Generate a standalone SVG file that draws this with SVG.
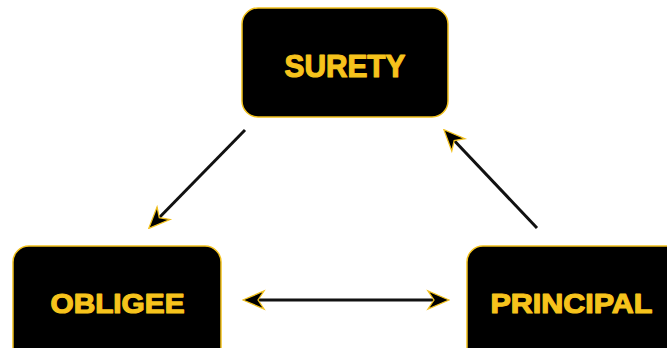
<svg xmlns="http://www.w3.org/2000/svg" width="667" height="348" viewBox="0 0 667 348">
<style>
.box{fill:#000;stroke:#f2c11d;stroke-width:1.5}
.lbl{fill:#f6c31c;stroke:#f6c31c;stroke-width:1.2;stroke-linejoin:round;font-family:"Liberation Sans",Arial,sans-serif;font-weight:bold;text-anchor:middle}
.con{stroke:#111;stroke-width:3;fill:none}
</style>
<defs>
<marker id="ah" viewBox="0 0 24 24" refX="17" refY="12" markerWidth="24" markerHeight="24" markerUnits="userSpaceOnUse" orient="auto-start-reverse">
<path d="M23,12 L2,3 L8,12 L2,21 Z" fill="#000" stroke="#f2c11d" stroke-width="1.3" stroke-linejoin="miter"/>
</marker>
</defs>
<rect width="667" height="348" fill="#fff"/>
<g id="connectors">
<line class="con" x1="245" y1="130" x2="153" y2="224" marker-end="url(#ah)"/>
<line class="con" x1="537" y1="228" x2="448" y2="134" marker-end="url(#ah)"/>
<line class="con" x1="249" y1="300" x2="443" y2="300" marker-start="url(#ah)" marker-end="url(#ah)"/>
</g>
<g id="surety">
<rect class="box" x="242" y="8" width="206" height="109" rx="16"/>
<text class="lbl" x="345" y="77" font-size="31" textLength="121" lengthAdjust="spacingAndGlyphs">SURETY</text>
</g>
<g id="obligee">
<rect class="box" x="13" y="246" width="208" height="120" rx="16"/>
<text class="lbl" x="117.5" y="313" font-size="28" textLength="134" lengthAdjust="spacingAndGlyphs">OBLIGEE</text>
</g>
<g id="principal">
<rect class="box" x="467" y="246" width="220" height="120" rx="16"/>
<text class="lbl" x="571.5" y="313" font-size="28" textLength="162" lengthAdjust="spacingAndGlyphs">PRINCIPAL</text>
</g>
</svg>
